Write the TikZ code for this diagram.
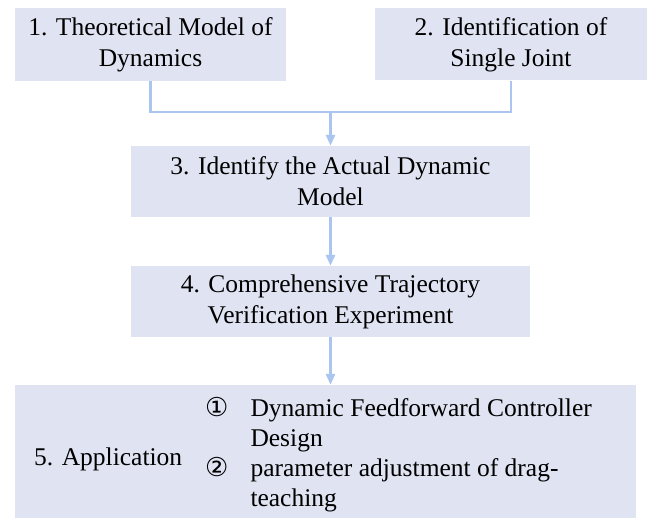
\documentclass[tikz,border=0pt]{standalone}
\usepackage{fontspec}
\setmainfont{Liberation Serif}
\newfontfamily\circfont{DejaVu Sans}
\usepackage{array}
\usetikzlibrary{arrows.meta,positioning,calc}

\definecolor{boxfill}{RGB}{224,228,242}
\definecolor{linkblue}{RGB}{170,198,240}

\begin{document}
\begin{tikzpicture}[x=1pt, y=-1pt,
    stage/.style={fill=boxfill, inner sep=0pt, align=center, font=\fontsize{25.5}{31}\selectfont},
    link/.style={draw=linkblue, line width=2.6pt},
    arr/.style={link, -{Triangle[length=11pt, width=9pt]}},
    lbl/.style={font=\fontsize{25.5}{30}\selectfont, inner sep=0pt}
]
\useasboundingbox (0,0) rectangle (648,518);

\node[stage, minimum width=271pt, minimum height=73pt] (model) at (150.5,44.5) {1. Theoretical Model of\\Dynamics};
\node[stage, minimum width=272pt, minimum height=72pt] (ident) at (511,44.5) {2. Identification of\\Single Joint};
\node[stage, minimum width=399pt, minimum height=71pt] (actual) at (330.5,181.5) {3. Identify the Actual Dynamic\\Model};
\node[stage, minimum width=399pt, minimum height=71pt] (verify) at (330.5,301.5) {4. Comprehensive Trajectory\\Verification Experiment};
\node[stage, minimum width=621pt, minimum height=136pt] (apply) at (325.5,453) {};

\node[lbl, anchor=west] (applbl) at (34,459) {5. Application};
\node[lbl, anchor=west] (items) at (205,455) {%
  \begin{tabular}{@{}l@{\hspace{22pt}}l@{}}
  {\circfont\fontsize{26}{30}\selectfont ①} & Dynamic Feedforward Controller\\
   & Design\\
  {\circfont\fontsize{26}{30}\selectfont ②} & parameter adjustment of drag-\\
   & teaching
  \end{tabular}};

\coordinate (join) at (330.5,112);
\draw[link] (model.south) |- (join) -| (ident.south);
\draw[arr] (join) -- (actual.north);
\draw[arr] (actual.south) -- (verify.north);
\draw[arr] (verify.south) -- (verify.south |- apply.north);
\end{tikzpicture}
\end{document}
